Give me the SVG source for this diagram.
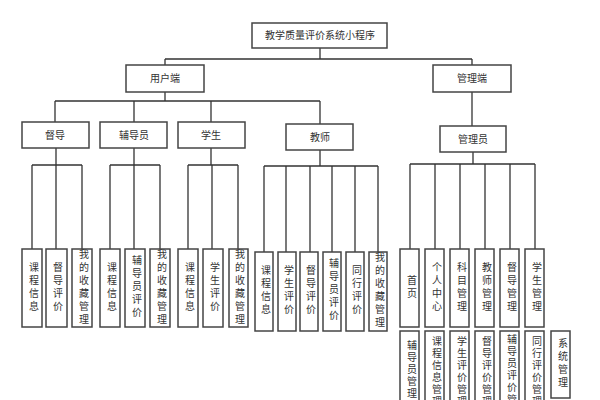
<svg xmlns="http://www.w3.org/2000/svg" width="600" height="400" viewBox="0 0 600 400">
<style>
.b{fill:#fff;stroke:#444;stroke-width:1.5}
.t{font-family:"Noto Sans CJK SC",sans-serif;font-size:10px;fill:#333;text-anchor:middle}
.v{font-family:"Noto Sans CJK SC",sans-serif;font-size:10px;fill:#333;writing-mode:vertical-rl;text-anchor:middle;letter-spacing:3px;transform:translateX(2px)}
.vs{font-family:"Noto Sans CJK SC",sans-serif;font-size:10px;fill:#333;writing-mode:vertical-rl;text-anchor:start;letter-spacing:2px;transform:translateX(2px)}
.c{fill:none;stroke:#333;stroke-width:1.3}
</style>
<rect width="600" height="400" fill="#fff"/>
<g id="connectors" class="c">
<path d="M320 48V59M165 59H472M165 59V65M472 59V65"/>
<path d="M165 92V101M55 101H320M55 101V122M134 101V122M211 101V122M320 101V124"/>
<path d="M472 92V126"/>
<path d="M56 148V165M32 165H82M32 165V249M56 165V249M82 165V249"/>
<path d="M134 148V165M110 165H160M110 165V249M134 165V249M160 165V249"/>
<path d="M211 148V165M188 165H238M188 165V249M212 165V249M238 165V249"/>
<path d="M320 150V166M264 166H378M264 166V252M286 166V252M310 166V252M332 166V252M355 166V252M378 166V252"/>
<path d="M473 152V164M410 164H535M410 164V249M435 164V249M460 164V249M485 164V249M510 164V249M535 164V249"/>
</g>
<g id="root"><rect class="b" x="252" y="23" width="135" height="25"/><text class="t" x="320" y="39">教学质量评价系统小程序</text></g>
<g id="user"><rect class="b" x="126" y="65" width="78" height="27"/><text class="t" x="165" y="82">用户端</text></g>
<g id="admin"><rect class="b" x="433" y="65" width="78" height="27"/><text class="t" x="472" y="82">管理端</text></g>
<g id="dudao"><rect class="b" x="22" y="122" width="67" height="26"/><text class="t" x="55" y="139">督导</text></g>
<g id="fudaoyuan"><rect class="b" x="100" y="122" width="67" height="26"/><text class="t" x="134" y="139">辅导员</text></g>
<g id="xuesheng"><rect class="b" x="178" y="122" width="67" height="26"/><text class="t" x="211" y="139">学生</text></g>
<g id="jiaoshi"><rect class="b" x="286" y="124" width="67" height="26"/><text class="t" x="320" y="141">教师</text></g>
<g id="guanliyuan"><rect class="b" x="440" y="126" width="66" height="26"/><text class="t" x="473" y="143">管理员</text></g>
<g id="d1"><rect class="b" x="22" y="249" width="20" height="78"/><text class="v" x="32" y="288">课程信息</text></g>
<g id="d2"><rect class="b" x="46" y="249" width="21" height="78"/><text class="v" x="56" y="288">督导评价</text></g>
<g id="d3"><rect class="b" x="72" y="249" width="20" height="78"/><text class="v" x="82" y="288">我的收藏管理</text></g>
<g id="f1"><rect class="b" x="100" y="249" width="20" height="78"/><text class="v" x="110" y="288">课程信息</text></g>
<g id="f2"><rect class="b" x="125" y="249" width="20" height="78"/><text class="v" x="135" y="288">辅导员评价</text></g>
<g id="f3"><rect class="b" x="150" y="249" width="20" height="78"/><text class="v" x="160" y="288">我的收藏管理</text></g>
<g id="s1"><rect class="b" x="178" y="249" width="20" height="78"/><text class="v" x="188" y="288">课程信息</text></g>
<g id="s2"><rect class="b" x="203" y="249" width="20" height="78"/><text class="v" x="213" y="288">学生评价</text></g>
<g id="s3"><rect class="b" x="229" y="249" width="19" height="78"/><text class="v" x="238" y="288">我的收藏管理</text></g>
<g id="j1"><rect class="b" x="255" y="252" width="18" height="79"/><text class="v" x="264" y="291">课程信息</text></g>
<g id="j2"><rect class="b" x="278" y="252" width="18" height="79"/><text class="v" x="287" y="291">学生评价</text></g>
<g id="j3"><rect class="b" x="300" y="252" width="18" height="79"/><text class="v" x="309" y="291">督导评价</text></g>
<g id="j4"><rect class="b" x="323" y="252" width="18" height="79"/><text class="v" x="332" y="291">辅导员评价</text></g>
<g id="j5"><rect class="b" x="346" y="252" width="18" height="79"/><text class="v" x="355" y="291">同行评价</text></g>
<g id="j6"><rect class="b" x="369" y="252" width="18" height="79"/><text class="v" x="378" y="291">我的收藏管理</text></g>
<g id="a1"><rect class="b" x="400" y="249" width="19" height="78"/><text class="v" x="410" y="288">首页</text></g>
<g id="a2"><rect class="b" x="425" y="249" width="19" height="78"/><text class="v" x="435" y="288">个人中心</text></g>
<g id="a3"><rect class="b" x="450" y="249" width="19" height="78"/><text class="v" x="460" y="288">科目管理</text></g>
<g id="a4"><rect class="b" x="475" y="249" width="19" height="78"/><text class="v" x="485" y="288">教师管理</text></g>
<g id="a5"><rect class="b" x="500" y="249" width="19" height="78"/><text class="v" x="510" y="288">督导管理</text></g>
<g id="a6"><rect class="b" x="525" y="249" width="19" height="78"/><text class="v" x="535" y="288">学生管理</text></g>
<g id="b1"><rect class="b" x="400" y="331" width="19" height="80"/><text class="vs" x="410" y="340">辅导员管理</text></g>
<g id="b2"><rect class="b" x="425" y="331" width="19" height="80"/><text class="vs" x="435" y="336">课程信息管理</text></g>
<g id="b3"><rect class="b" x="450" y="331" width="19" height="80"/><text class="vs" x="460" y="336">学生评价管理</text></g>
<g id="b4"><rect class="b" x="475" y="331" width="19" height="80"/><text class="vs" x="485" y="336">督导评价管理</text></g>
<g id="b5"><rect class="b" x="500" y="331" width="19" height="80"/><text class="vs" x="510" y="334">辅导员评价管理</text></g>
<g id="b6"><rect class="b" x="525" y="331" width="19" height="80"/><text class="vs" x="535" y="336">同行评价管理</text></g>
<g id="b7"><rect class="b" x="551" y="331" width="19" height="67"/><text class="v" x="561" y="364">系统管理</text></g>
</svg>
